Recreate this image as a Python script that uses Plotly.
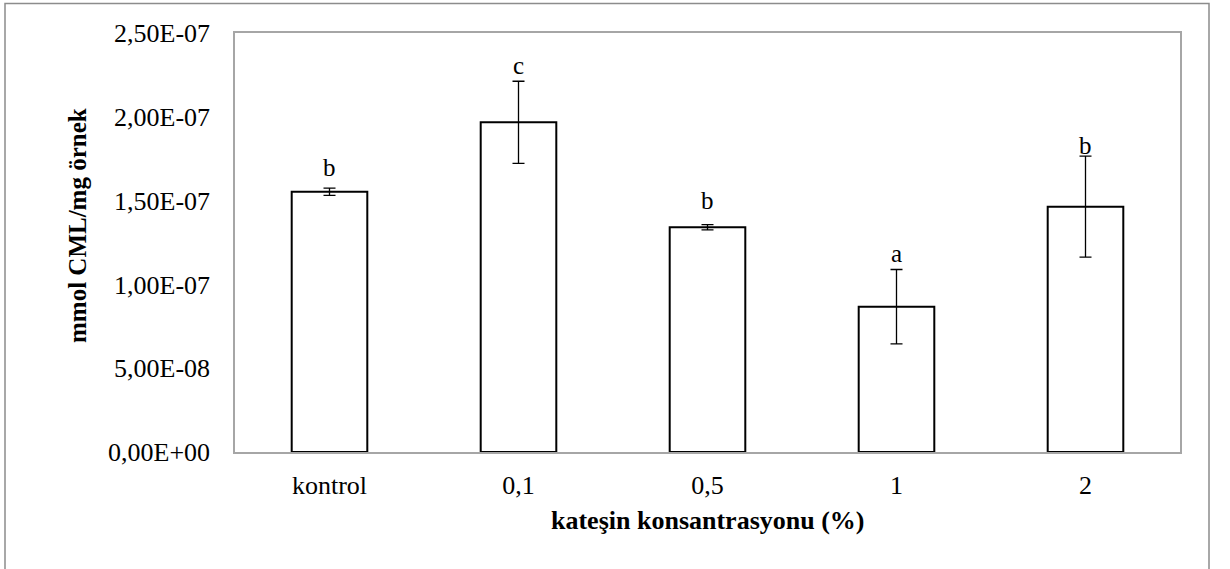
import plotly.graph_objects as go

# Catechin concentration groups and CML content (mmol CML / mg sample)
categories = ["kontrol", "0,1", "0,5", "1", "2"]
cml_mean = [1.553e-07, 1.967e-07, 1.341e-07, 0.867e-07, 1.464e-07]
cml_err = [0.022e-07, 0.245e-07, 0.016e-07, 0.222e-07, 0.301e-07]
group_letters = ["b", "c", "b", "a", "b"]

y_tickvals = [0, 5e-08, 1e-07, 1.5e-07, 2e-07, 2.5e-07]
y_ticktext = ["0,00E+00", "5,00E-08", "1,00E-07", "1,50E-07", "2,00E-07", "2,50E-07"]

FONT = "Liberation Serif, Times New Roman, serif"

W, H = 1230, 569
L, R, T, B = 235, 50, 33, 117
plot_w = W - L - R
plot_h = H - T - B

fig = go.Figure()
fig.add_trace(go.Bar(
    x=categories,
    y=cml_mean,
    marker=dict(color="white", line=dict(color="black", width=2)),
    error_y=dict(type="data", array=cml_err, visible=True,
                 color="black", thickness=1.3, width=6),
    showlegend=False,
))

# significance letters, lifted a few pixels above each error bar
# (x given as category index so "1" and "2" are not read as positions)
letter_shift = [5, 0, 9, 0, -5]
for i, (m, e, lab, s) in enumerate(zip(cml_mean, cml_err, group_letters, letter_shift)):
    fig.add_annotation(x=i, y=m + e, text=lab, showarrow=False,
                       xref="x", yref="y", yanchor="bottom", yshift=s,
                       font=dict(family=FONT, size=25, color="black"))

# axis titles
fig.add_annotation(text="<b>mmol CML/mg örnek</b>", textangle=-90,
                   xref="paper", yref="paper",
                   x=0, xshift=-(L - 77), xanchor="center",
                   y=(452 - 226) / plot_h, yanchor="middle",
                   showarrow=False,
                   font=dict(family=FONT, size=25, color="black"))
fig.add_annotation(text="<b>kateşin konsantrasyonu (%)</b>",
                   xref="paper", yref="paper",
                   x=0.5, y=0, yshift=-(520 - 452), yanchor="middle",
                   showarrow=False,
                   font=dict(family=FONT, size=26, color="black"))

# chart-area frame
fig.add_shape(type="rect", xref="paper", yref="paper",
              x0=(5 - L) / plot_w, x1=(1209 - L) / plot_w,
              y0=(452 - 571) / plot_h, y1=(452 - 3.5) / plot_h,
              line=dict(color="#8c8c8c", width=1.5), layer="below")

fig.update_layout(
    width=W, height=H,
    margin=dict(l=L, r=R, t=T, b=B, pad=0),
    paper_bgcolor="white", plot_bgcolor="white",
    bargap=0.6,
    font=dict(family=FONT, size=26, color="black"),
    xaxis=dict(showgrid=False, ticks="", showline=True, mirror=True,
               linecolor="#a6a6a6", linewidth=1.5,
               tickfont=dict(family=FONT, size=26, color="black"),
               ticklabelstandoff=9),
    yaxis=dict(range=[0, 2.5e-07], tickvals=y_tickvals, ticktext=y_ticktext,
               showgrid=False, zeroline=False, ticks="", showline=True, mirror=True,
               linecolor="#a6a6a6", linewidth=1.5,
               tickfont=dict(family=FONT, size=26, color="black"),
               ticklabelstandoff=18),
)

fig.write_html("out.html")
